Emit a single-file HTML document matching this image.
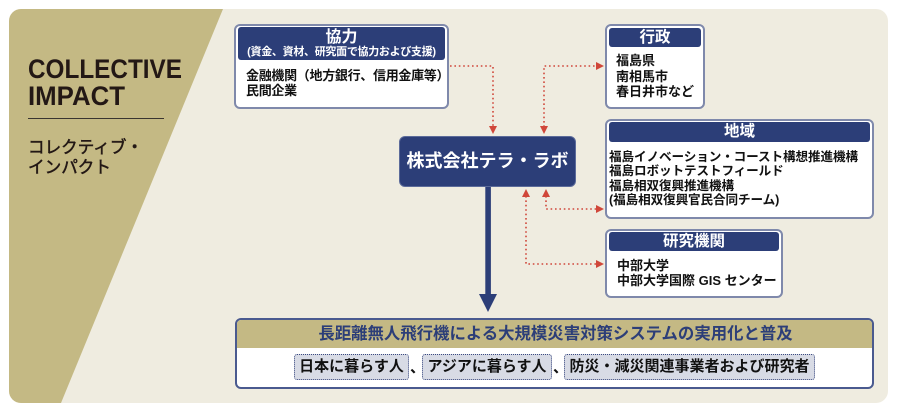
<!DOCTYPE html>
<html><head><meta charset="utf-8">
<style>
*{margin:0;padding:0;box-sizing:border-box}
html,body{width:898px;height:413px;background:#fff;overflow:hidden}
body{position:relative;font-family:"Liberation Sans","Noto Sans CJK JP",sans-serif}
.abs{position:absolute}
.panel{left:9px;top:9px;width:879px;height:394px;border-radius:12px;background:#efece0;overflow:hidden}
.box{position:absolute;background:#fff;border:2px solid #7f89ab;border-radius:6px}
.hdr{position:absolute;background:#2c3e78;border-radius:3px;color:#fff;font-weight:700;text-align:center;white-space:nowrap}
.body{position:absolute;color:#111;font-weight:700;font-size:13px;white-space:nowrap}
.tag{position:absolute;top:354px;height:26px;background:#d8dbe5;border:1px dotted #3b4a80;border-radius:3px;font-size:15px;font-weight:700;color:#111;line-height:24px;text-align:center;white-space:nowrap}
.cm{position:absolute;top:356px;font-size:15px;font-weight:700;color:#111;line-height:24px}
</style></head><body>
<div class="abs panel">
<svg width="879" height="394" style="position:absolute;left:0;top:0">
<polygon points="0,0 214,0 52,394 0,394" fill="#c4b984"/>
</svg>
</div>

<svg class="abs" style="left:0;top:0" width="898" height="413">
<text x="28" y="78" font-family="Liberation Sans, sans-serif" font-size="27" font-weight="bold" fill="#231815" textLength="154" lengthAdjust="spacingAndGlyphs">COLLECTIVE</text>
<text x="28" y="105" font-family="Liberation Sans, sans-serif" font-size="27" font-weight="bold" fill="#231815" textLength="97" lengthAdjust="spacingAndGlyphs">IMPACT</text>
<line x1="28" y1="118.5" x2="164" y2="118.5" stroke="#3a3530" stroke-width="1"/>
<text x="28" y="153" font-family="Liberation Sans, Noto Sans CJK JP, sans-serif" font-size="17" fill="#231815" stroke="#231815" stroke-width="0.5" textLength="115" lengthAdjust="spacingAndGlyphs">コレクティブ・</text>
<text x="28" y="173" font-family="Liberation Sans, Noto Sans CJK JP, sans-serif" font-size="17" fill="#231815" stroke="#231815" stroke-width="0.5" textLength="83" lengthAdjust="spacingAndGlyphs">インパクト</text>
</svg>

<!-- 協力 -->
<div class="box" style="left:234px;top:24px;width:215px;height:85px"></div>
<div class="hdr" style="left:238px;top:27px;width:207px;height:33px;padding-top:3px">
<div style="font-size:16px;line-height:16px">協力</div>
<div style="font-size:11px;line-height:13px;letter-spacing:-0.3px">(資金、資材、研究面で協力および支援)</div>
</div>
<div class="body" style="left:246px;top:68px;line-height:15px;letter-spacing:-0.3px">金融機関（地方銀行、信用金庫等）<br>民間企業</div>

<!-- 行政 -->
<div class="box" style="left:605px;top:24px;width:100px;height:85px"></div>
<div class="hdr" style="left:609px;top:28px;width:92px;height:19px;font-size:15.5px;line-height:19px">行政</div>
<div class="body" style="left:616px;top:53px;line-height:15.5px">福島県<br>南相馬市<br>春日井市など</div>

<!-- 地域 -->
<div class="box" style="left:605px;top:119px;width:269px;height:100px"></div>
<div class="hdr" style="left:609px;top:122px;width:261px;height:20px;font-size:15.5px;line-height:20px">地域</div>
<div class="body" style="left:609px;top:150px;line-height:14.4px;font-size:12.6px;letter-spacing:-0.1px">福島イノベーション・コースト構想推進機構<br>福島ロボットテストフィールド<br>福島相双復興推進機構<br>(福島相双復興官民合同チーム)</div>

<!-- 研究機関 -->
<div class="box" style="left:605px;top:229px;width:178px;height:69px"></div>
<div class="hdr" style="left:609px;top:232px;width:170px;height:19px;font-size:15.5px;line-height:19px">研究機関</div>
<div class="body" style="left:617px;top:258px;line-height:15px">中部大学<br>中部大学国際 GIS センター</div>

<!-- テラ・ラボ -->
<div class="abs" style="left:399px;top:136px;width:177px;height:51px;background:#2c3e78;border:1px solid #5c6b9a;border-radius:6px;color:#fff;font-weight:700;font-size:18px;line-height:49px;text-align:center;white-space:nowrap">株式会社テラ・ラボ</div>

<!-- bottom -->
<div class="abs" style="left:235px;top:318px;width:639px;height:71px;background:#fff;border:2px solid #4a5a8f;border-radius:6px;overflow:hidden">
<div style="height:28px;background:#c4b984;color:#2c3e78;font-weight:700;font-size:16.4px;line-height:28px;text-align:center;white-space:nowrap;padding-left:2px">長距離無人飛行機による大規模災害対策システムの実用化と普及</div>
</div>
<div class="tag" style="left:294px;width:115px">日本に暮らす人</div>
<div class="cm" style="left:410px">、</div>
<div class="tag" style="left:422px;width:130px">アジアに暮らす人</div>
<div class="cm" style="left:553px">、</div>
<div class="tag" style="left:564px;width:251px">防災・減災関連事業者および研究者</div>

<!-- connectors -->
<svg class="abs" style="left:0;top:0" width="898" height="413">
<g fill="none" stroke="#d0473a" stroke-width="1.6" stroke-dasharray="1.6 2.8">
<polyline points="450,66 493,66 493,127"/>
<polyline points="544,127 544,66 597,66"/>
<polyline points="546,196 546,209 597,209"/>
<polyline points="526,196 526,264 597,264"/>
</g>
<g fill="#d0473a">
<polygon points="489,126 497,126 493,134"/>
<polygon points="540,126 548,126 544,134"/>
<polygon points="596,62 596,70 604,66"/>
<polygon points="542,197 550,197 546,189"/>
<polygon points="522,197 530,197 526,189"/>
<polygon points="596,205 596,213 604,209"/>
<polygon points="596,260 596,268 604,264"/>
</g>
<rect x="485.3" y="187" width="5.6" height="110" fill="#2c3e78"/>
<polygon points="479,294 497,294 488,312" fill="#2c3e78"/>
</svg>
</body></html>
